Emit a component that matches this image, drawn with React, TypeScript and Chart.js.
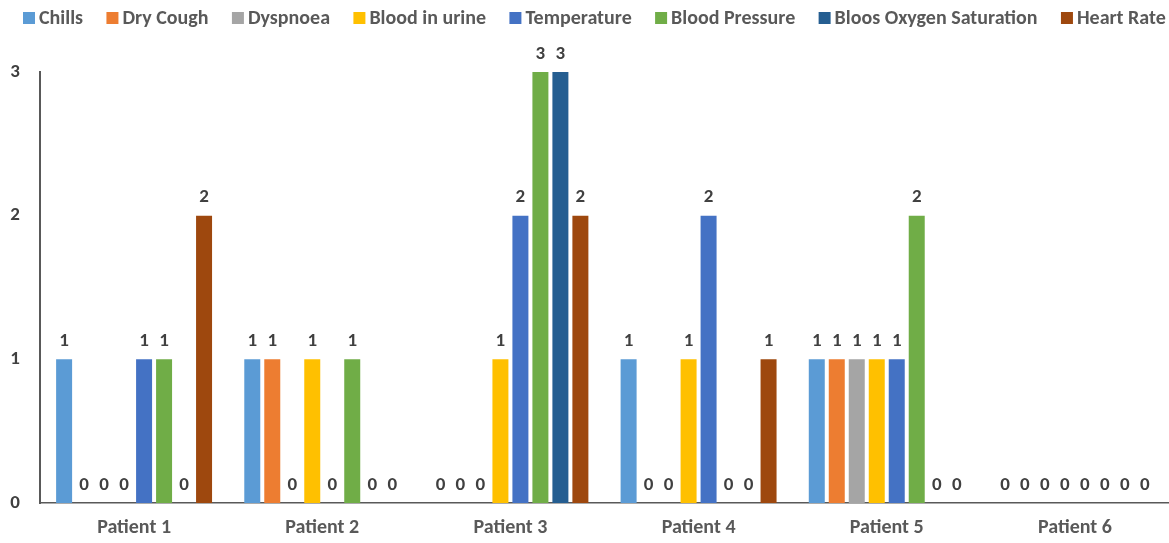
import React, { useEffect, useRef } from "react";
import { Chart, registerables } from "chart.js";

Chart.register(...registerables);

const categories = ["Patient 1", "Patient 2", "Patient 3", "Patient 4", "Patient 5", "Patient 6"];
const chills = [1, 1, 0, 1, 1, 0];
const dryCough = [0, 1, 0, 0, 1, 0];
const dyspnoea = [0, 0, 0, 0, 1, 0];
const bloodInUrine = [0, 1, 1, 1, 1, 0];
const temperature = [1, 0, 2, 2, 1, 0];
const bloodPressure = [1, 1, 3, 0, 2, 0];
const oxygenSaturation = [0, 0, 3, 0, 0, 0];
const heartRate = [2, 0, 2, 1, 0, 0];
const yTicks = [0, 1, 2, 3];

const seriesNames = [
  "Chills",
  "Dry Cough",
  "Dyspnoea",
  "Blood in urine",
  "Temperature",
  "Blood Pressure",
  "Bloos Oxygen Saturation",
  "Heart Rate",
];
const seriesValues = [chills, dryCough, dyspnoea, bloodInUrine, temperature, bloodPressure, oxygenSaturation, heartRate];
const seriesColors = ["#5B9BD5", "#ED7D31", "#A5A5A5", "#FFC000", "#4472C4", "#70AD47", "#255E91", "#9E480E"];

const FONT = "Carlito, Calibri, 'Open Sans', sans-serif";

const dataLabels = {
  id: "dataLabels",
  afterDatasetsDraw(chart: any) {
    const ctx = chart.ctx;
    ctx.save();
    ctx.font = `bold 19px ${FONT}`;
    ctx.fillStyle = "#404040";
    ctx.textAlign = "center";
    ctx.textBaseline = "middle";
    chart.data.datasets.forEach((ds: any, i: number) => {
      const meta = chart.getDatasetMeta(i);
      meta.data.forEach((el: any, j: number) => {
        ctx.fillText(String(ds.data[j]), el.x, el.y - 18);
      });
    });
    ctx.restore();
  },
};

const customLegend = {
  id: "customLegend",
  afterDraw(chart: any) {
    const ctx = chart.ctx;
    ctx.save();
    ctx.font = `bold 20px ${FONT}`;
    ctx.textBaseline = "middle";
    ctx.textAlign = "left";
    const box = 12;
    const boxGap = 4;
    const itemGap = 23.4;
    const y = 18;
    let x = 23;
    chart.data.datasets.forEach((ds: any) => {
      ctx.fillStyle = ds.backgroundColor;
      ctx.fillRect(x, y - box / 2, box, box);
      x += box + boxGap;
      ctx.fillStyle = "#595959";
      ctx.fillText(ds.label, x, y + 1);
      x += ctx.measureText(ds.label).width + itemGap;
    });
    ctx.restore();
  },
};

export default function App() {
  const ref = useRef<HTMLCanvasElement | null>(null);
  useEffect(() => {
    if (!ref.current) return;
    const chart = new Chart(ref.current, {
      type: "bar",
      data: {
        labels: categories,
        datasets: seriesNames.map((name, i) => ({
          label: name,
          data: seriesValues[i],
          backgroundColor: seriesColors[i],
          borderWidth: 0,
          categoryPercentage: 0.85,
          barPercentage: 0.8,
        })),
      },
      plugins: [dataLabels, customLegend],
      options: {
        animation: false,
        responsive: false,
        maintainAspectRatio: false,
        layout: { padding: { top: 72, left: 1, right: 0, bottom: 0 } },
        plugins: {
          tooltip: { enabled: false },
          legend: { display: false },
        },
        scales: {
          x: {
            grid: { display: false, drawTicks: false },
            border: { display: true, color: "#595959", width: 1.5 },
            ticks: {
              color: "#595959",
              padding: 13,
              font: { family: FONT, size: 20, weight: "bold" },
            },
            afterFit(scale: any) {
              scale.height = 40;
            },
          },
          y: {
            min: 0,
            max: 3,
            afterBuildTicks(scale: any) {
              scale.ticks = yTicks.map((v) => ({ value: v }));
            },
            grid: { display: false, drawTicks: false },
            border: { display: true, color: "#595959", width: 2 },
            ticks: {
              color: "#404040",
              padding: 20,
              font: { family: FONT, size: 19, weight: "bold" },
            },
            afterFit(scale: any) {
              scale.width = 39;
            },
          },
        },
      },
    } as any);
    return () => chart.destroy();
  }, []);
  return (
    <div style={{ position: "fixed", left: 0, top: 0, width: 1169, height: 543, background: "#fff" }}>
      <canvas ref={ref} width={1169} height={543} style={{ width: 1169, height: 543 }} />
    </div>
  );
}
